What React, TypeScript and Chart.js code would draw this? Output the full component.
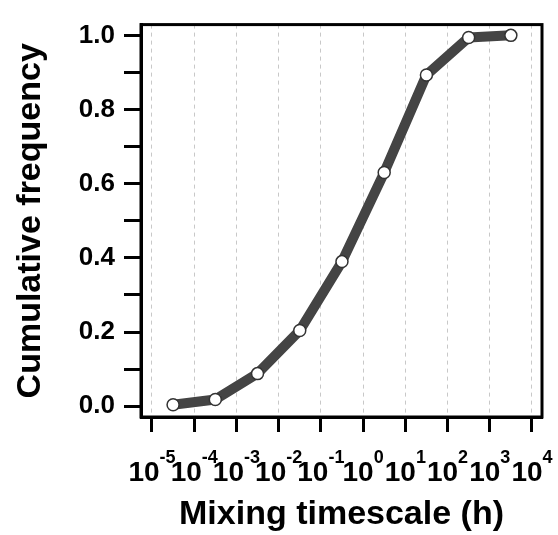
import React, { useEffect, useRef } from "react";
import { Chart, registerables } from "chart.js";

Chart.register(...registerables);

// Data (x = mixing timescale in hours, y = cumulative frequency)
const timescales: number[] = [3.16e-5, 3.16e-4, 3.16e-3, 3.16e-2, 0.316, 3.16, 31.6, 316, 3160];
const cumulative: number[] = [0.004, 0.018, 0.088, 0.204, 0.39, 0.63, 0.893, 0.994, 1.0];
const xTickExponents: string[] = ["-5", "-4", "-3", "-2", "-1", "0", "1", "2", "3", "4"];
const xTickValues: number[] = [1e-5, 1e-4, 1e-3, 1e-2, 1e-1, 1, 10, 100, 1000, 10000];
const yTickValues: number[] = [0, 0.1, 0.2, 0.3, 0.4, 0.5, 0.6, 0.7, 0.8, 0.9, 1.0];
const yTickLabels: string[] = ["0.0", "", "0.2", "", "0.4", "", "0.6", "", "0.8", "", "1.0"];

const FONT = "'Liberation Sans', Arial, Helvetica, sans-serif";

const framePlugin = {
  id: "frameAndLabels",
  afterDraw(chart: any) {
    const { ctx, chartArea } = chart;
    ctx.save();
    ctx.strokeStyle = "#000";
    ctx.lineWidth = 3;
    ctx.strokeRect(chartArea.left, chartArea.top, chartArea.right - chartArea.left, chartArea.bottom - chartArea.top);
    // superscript tick labels for the log x axis
    const xs = chart.scales.x;
    ctx.fillStyle = "#000";
    ctx.textBaseline = "alphabetic";
    ctx.textAlign = "left";
    const baseFont = `bold 28px ${FONT}`;
    const supFont = `bold 18px ${FONT}`;
    xTickValues.forEach((v, i) => {
      const px = xs.getPixelForValue(v);
      ctx.font = baseFont;
      const w1 = ctx.measureText("10").width;
      ctx.font = supFont;
      const w2 = ctx.measureText(xTickExponents[i]).width;
      const start = px - (w1 + w2) / 2;
      ctx.font = baseFont;
      ctx.fillText("10", start, chartArea.bottom + 64);
      ctx.font = supFont;
      ctx.fillText(xTickExponents[i], start + w1, chartArea.bottom + 46);
    });
    ctx.restore();
  },
};

export default function App() {
  const ref = useRef<HTMLCanvasElement | null>(null);
  useEffect(() => {
    if (!ref.current) return;
    const chart = new Chart(ref.current, {
      type: "line",
      data: {
        datasets: [
          {
            data: timescales.map((x, i) => ({ x, y: cumulative[i] })),
            borderColor: "#444444",
            borderWidth: 10,
            borderJoinStyle: "round",
            pointRadius: 6,
            pointBackgroundColor: "#ffffff",
            pointBorderColor: "#333333",
            pointBorderWidth: 1.5,
            tension: 0,
          },
        ],
      },
      options: {
        responsive: false,
        animation: false,
        layout: { padding: { top: 15, right: 16, left: 0, bottom: 0 } },
        plugins: { legend: { display: false }, tooltip: { enabled: false } },
        scales: {
          x: {
            type: "logarithmic",
            min: Math.pow(10, -5.26),
            max: Math.pow(10, 4.237),
            afterBuildTicks: (s: any) => {
              s.ticks = xTickValues.map((v) => ({ value: v }));
            },
            afterFit: (s: any) => {
              s.height = 118;
            },
            ticks: { display: false },
            grid: {
              display: true,
              drawOnChartArea: true,
              drawTicks: true,
              color: "#c8c8c8",
              lineWidth: 1,
              tickLength: 15,
              tickWidth: 3,
              tickColor: "#000",
            },
            border: { display: true, color: "#000", width: 3, dash: [4, 4] },
            title: {
              display: true,
              text: "Mixing timescale (h)",
              color: "#000",
              font: { family: FONT, size: 34, weight: "bold" },
              padding: { top: 0, bottom: 0 },
            },
          },
          y: {
            type: "linear",
            min: -0.029,
            max: 1.029,
            afterBuildTicks: (s: any) => {
              s.ticks = yTickValues.map((v) => ({ value: v }));
            },
            afterFit: (s: any) => {
              s.width = 141;
            },
            ticks: {
              color: "#000",
              padding: 9,
              font: { family: FONT, size: 26, weight: "bold" },
              callback: (_v: any, i: number) => yTickLabels[i],
            },
            grid: {
              display: true,
              drawOnChartArea: false,
              drawTicks: true,
              tickLength: 17,
              tickWidth: 3,
              tickColor: "#000",
            },
            border: { display: true, color: "#000", width: 3 },
            title: {
              display: true,
              text: "Cumulative frequency",
              color: "#000",
              font: { family: FONT, size: 34, weight: "bold" },
              padding: { top: 10, bottom: 0 },
            },
          },
        },
      },
      plugins: [framePlugin],
    } as any);
    return () => chart.destroy();
  }, []);
  return (
    <div style={{ position: "fixed", left: 0, top: 0, width: 558, height: 535, background: "#fff" }}>
      <canvas ref={ref} width={558} height={535} />
    </div>
  );
}
